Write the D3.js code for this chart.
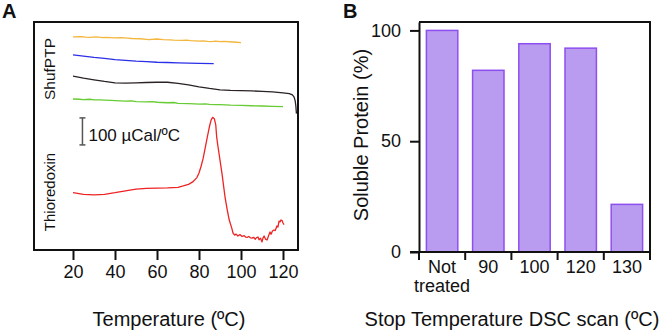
<!DOCTYPE html>
<html>
<head>
<meta charset="utf-8">
<script src="https://cdn.jsdelivr.net/npm/d3@7"></script>
<style>
  body { margin: 0; background: #fff; }
  text { font-family: "Liberation Sans", Arial, Helvetica, sans-serif; fill: #111; }
</style>
</head>
<body>
<svg id="chart" width="664" height="331"></svg>
<script>
// ---- Panel A: DSC traces, [temperature, heat capacity (µCal/ºC, offset)] ----
var orangeTrace = [[20,789],[24,790],[26,788],[28,787],[31,789],[34,786],[36,787],[40,785],[43,786],[46,784],[48,783],[52,782],[55,780],[56,779],[60,781],[63,779],[66,778],[68,777],[72,776],[74,777],[76,775],[80,773],[82,774],[84,772],[86,771],[88,773],[90,771],[92,772],[96,770],[98,769],[100,768]];
var blueTrace = [[20,722],[25,718],[30,713],[35,709],[40,705],[45,702],[50,699],[55,697],[60,695],[65,694],[70,693],[75,692],[80,691],[87,690]];
var blackTrace = [[20,644],[25,636],[30,630],[35,624],[40,619],[45,618],[50,619],[55,620],[60,621],[65,621],[70,617],[75,611],[80,604],[85,598],[90,593],[95,591],[100,590],[105,589],[110,587],[115,585],[120,582],[123,579],[124.5,574],[125.3,566],[125.8,552],[126.1,535],[126.4,505]];
var greenTrace = [[20,559],[23,558],[25,557],[28,558],[30,556],[33,556],[35,555],[38,554],[40,553],[45,551],[48,552],[50,549],[55,548],[58,549],[60,547],[65,545],[68,546],[70,543],[75,542],[78,541],[80,540],[83,541],[85,539],[88,538],[90,538],[95,536],[100,535],[105,534],[110,533],[115,532],[120,531]];
var redTrace = [[20,212],[25,206],[30,204],[35,206],[40,212],[45,219],[50,225],[55,228],[60,229],[65,230],[70,232],[72.5,237],[75,243],[77,252],[79,268],[80,285],[81,310],[82,340],[83,380],[84,420],[85,458],[85.8,482],[86.5,491],[87.3,486],[88,462],[88.4,420],[89,385],[90,333],[91,280],[92.4,196],[93.4,150],[94.4,111],[95.6,81],[96.2,63],[97,55],[97.7,59],[98.5,52],[99.5,57],[100.5,50],[101.5,53],[102.2,48],[102.9,47],[103.7,50],[104.5,45],[105.2,44],[106,47],[106.8,40],[107.4,46],[108.1,48],[108.6,38],[109.3,44],[110,30],[110.5,45],[111,52],[111.7,40],[112.4,37],[113,50],[113.8,67],[114.3,58],[115,70],[115.7,74],[116.3,72],[117.1,89],[117.6,85],[118.1,107],[118.6,104],[119,111],[119.5,110],[120,100],[120.5,94]];
var tempTicks = [20, 40, 60, 80, 100, 120];
var scaleBar = [24.5, 389, 489]; // temperature, bottom, top

// ---- Panel B: soluble protein after DSC scan ----
var stopCategories = ["Not treated", "90", "100", "120", "130"];
var solubleValues = [100, 82, 94, 92, 21.5];
var solubleTicks = [0, 50, 100];

var svg = d3.select("#chart");

// ===== Panel A =====
var xA = d3.scaleLinear().domain([20, 120]).range([73, 283]);
var yA = d3.scaleLinear().domain([0, 844]).range([250, 22]);
var boxA = { left: 34, right: 298, top: 22, bottom: 250 };

svg.append("text").attr("x", 2).attr("y", 18)
  .style("font-size", "20px").style("font-weight", "bold").text("A");

svg.append("rect")
  .attr("x", boxA.left).attr("y", boxA.top)
  .attr("width", boxA.right - boxA.left).attr("height", boxA.bottom - boxA.top)
  .attr("fill", "none").attr("stroke", "#111").attr("stroke-width", 2);

var xAxisA = svg.append("g").attr("transform", "translate(0," + (boxA.bottom + 1) + ")")
  .call(d3.axisBottom(xA).tickValues(tempTicks).tickSize(9).tickPadding(5));
xAxisA.select(".domain").remove();
xAxisA.selectAll(".tick line").attr("stroke", "#111").attr("stroke-width", 2);
xAxisA.selectAll(".tick text").style("font-size", "18px").attr("fill", "#111")
  .style("font-family", "'Liberation Sans', Arial, sans-serif");

var line = d3.line().x(function(d) { return xA(d[0]); }).y(function(d) { return yA(d[1]); });

var traces = [
  { data: orangeTrace, color: "#f4b63c" },
  { data: blueTrace, color: "#2b2fe6" },
  { data: blackTrace, color: "#2a2226" },
  { data: greenTrace, color: "#66cc33" },
  { data: redTrace, color: "#ee2424" }
];
svg.selectAll(".trace").data(traces).enter().append("path")
  .attr("class", "trace")
  .attr("d", function(d) { return line(d.data); })
  .attr("fill", "none")
  .attr("stroke", function(d) { return d.color; })
  .attr("stroke-width", 1.3)
  .attr("stroke-linejoin", "round");

// scale bar
var sb = svg.append("g").attr("stroke", "#555").attr("stroke-width", 1.5);
sb.append("line").attr("x1", xA(scaleBar[0])).attr("x2", xA(scaleBar[0]))
  .attr("y1", yA(scaleBar[1])).attr("y2", yA(scaleBar[2]));
sb.selectAll(".serif").data([scaleBar[1], scaleBar[2]]).enter().append("line")
  .attr("x1", xA(scaleBar[0]) - 3).attr("x2", xA(scaleBar[0]) + 3)
  .attr("y1", function(d) { return yA(d); }).attr("y2", function(d) { return yA(d); });
svg.append("text").attr("x", xA(scaleBar[0]) + 6).attr("y", yA(scaleBar[1]) - 4)
  .style("font-size", "17px").text("100 µCal/ºC");

svg.append("text").attr("transform", "translate(55,69) rotate(-90)")
  .attr("text-anchor", "middle").style("font-size", "15.5px").text("ShufPTP");
svg.append("text").attr("transform", "translate(55,192) rotate(-90)")
  .attr("text-anchor", "middle").style("font-size", "15px").text("Thioredoxin");

svg.append("text").attr("x", (boxA.left + boxA.right) / 2 + 3).attr("y", 326)
  .attr("text-anchor", "middle").style("font-size", "20px").text("Temperature (ºC)");

// ===== Panel B =====
var xB = d3.scaleBand().domain(stopCategories).range([419, 650]).paddingInner(0.32).paddingOuter(0.16);
var yB = d3.scaleLinear().domain([0, 103.8]).range([252, 22]);

svg.append("text").attr("x", 343).attr("y", 18)
  .style("font-size", "20px").style("font-weight", "bold").text("B");

svg.selectAll(".bar").data(solubleValues).enter().append("rect")
  .attr("class", "bar")
  .attr("x", function(d, i) { return xB(stopCategories[i]); })
  .attr("y", function(d) { return yB(d); })
  .attr("width", xB.bandwidth())
  .attr("height", function(d) { return yB(0) - yB(d); })
  .attr("fill", "#b99bef")
  .attr("stroke", "#8e4ff0")
  .attr("stroke-width", 1.5);

var frame = svg.append("g").attr("stroke", "#111").attr("stroke-width", 2).attr("fill", "none");
// top and right border
frame.append("path").attr("d", "M419," + yB.range()[1] + "H650V" + (yB(0) + 8));
// left y axis
var yAxisB = svg.append("g").attr("transform", "translate(419,0)")
  .call(d3.axisLeft(yB).tickValues(solubleTicks).tickSize(9).tickPadding(9).tickSizeOuter(0));
yAxisB.select(".domain").attr("stroke", "#111").attr("stroke-width", 2);
yAxisB.selectAll(".tick line").attr("stroke", "#111").attr("stroke-width", 2);
yAxisB.selectAll(".tick text").style("font-size", "18px").attr("fill", "#111")
  .style("font-family", "'Liberation Sans', Arial, sans-serif");

// bottom baseline and band boundary ticks
frame.append("line").attr("x1", 410).attr("x2", 650).attr("y1", yB(0)).attr("y2", yB(0));
var bounds = stopCategories.map(function(c) { return xB(c) - xB.step() * xB.paddingInner() / 2; });
bounds[0] = xB.range()[0];
frame.selectAll(".bt").data(bounds).enter().append("line")
  .attr("x1", function(d) { return d; }).attr("x2", function(d) { return d; })
  .attr("y1", yB(0)).attr("y2", yB(0) + 8);

var labels = svg.selectAll(".cat").data(stopCategories).enter().append("text")
  .attr("class", "cat")
  .attr("text-anchor", "middle")
  .style("font-size", "18px")
  .attr("x", function(d) { return xB(d) + xB.bandwidth() / 2; })
  .attr("y", 273);
labels.each(function(d) {
  var words = d.split(" ");
  var t = d3.select(this);
  words.forEach(function(w, i) {
    t.append("tspan").attr("x", t.attr("x")).attr("dy", i === 0 ? 0 : 19).text(w);
  });
});

svg.append("text").attr("transform", "translate(368,135) rotate(-90)")
  .attr("text-anchor", "middle").style("font-size", "20px").text("Soluble Protein (%)");

svg.append("text").attr("x", 512).attr("y", 326)
  .attr("text-anchor", "middle").style("font-size", "20px").text("Stop Temperature DSC scan (ºC)");
</script>
</body>
</html>
